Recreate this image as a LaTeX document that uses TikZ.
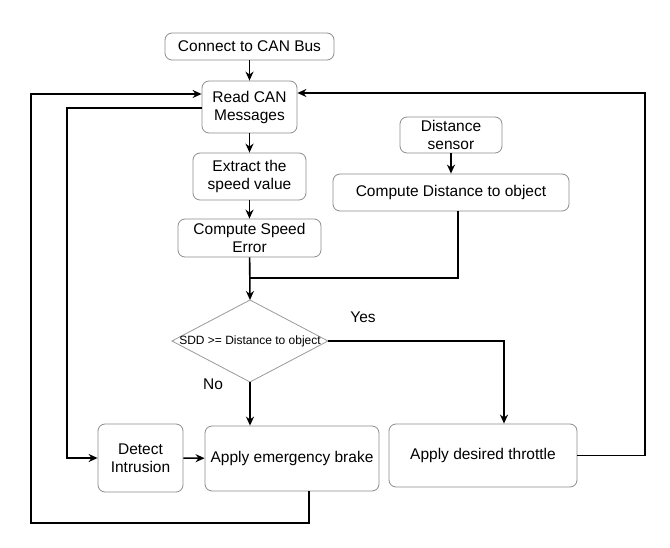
\documentclass[tikz,border=0pt]{standalone}
\usepackage{fontspec}
\setmainfont{Liberation Sans}
\usetikzlibrary{arrows.meta}
\begin{document}
\begin{tikzpicture}[x=1pt,y=-1pt,
  box/.style={draw=black!45, line width=0.8pt, rounded corners=7pt, align=center, inner sep=1pt,
    font=\fontsize{15.5}{18}\selectfont},
  diaedge/.style={draw=black!40, line width=0.8pt},
  diatext/.style={inner sep=0pt, font=\fontsize{12}{14}\selectfont},
  conn/.style={line width=1.6pt, black},
  arr/.style={conn, -{Stealth[length=9pt,width=8pt]}},
  lbl/.style={font=\fontsize{15.5}{18}\selectfont}]
\useasboundingbox (0,0) rectangle (670,548);
\node[box, minimum width=169pt, minimum height=27pt] (connect) at (249.5,46.5) {Connect to CAN Bus};
\node[box, minimum width=95pt, minimum height=52pt] (read) at (249.5,107) {Read CAN\\Messages};
\node[box, minimum width=113pt, minimum height=47pt] (extract) at (249.5,176.5) {Extract the\\speed value};
\node[box, minimum width=143pt, minimum height=38pt] (speed) at (249.5,238) {Compute Speed\\Error};
\node[box, minimum width=102pt, minimum height=36pt] (dsensor) at (451,135) {Distance\\sensor};
\node[box, minimum width=236pt, minimum height=37pt] (cdist) at (451,192.5) {Compute Distance to object};
\coordinate (dtop) at (250,300);
\coordinate (dbot) at (250,382);
\coordinate (dleft) at (172,341);
\coordinate (dright) at (328,341);
\draw[diaedge] (dtop) -- (dright) -- (dbot) -- (dleft) -- cycle;
\node[diatext] (dec) at (250,341) {SDD >= Distance to object};
\node[box, minimum width=174pt, minimum height=65pt] (brake) at (292,458.5) {Apply emergency brake};
\node[box, minimum width=85pt, minimum height=68pt] (intr) at (140.5,458) {Detect\\Intrusion};
\node[box, minimum width=188pt, minimum height=63pt] (thr) at (483,455.5) {Apply desired throttle};
\node[lbl] (yes) at (363,317) {Yes};
\node[lbl] (no) at (213,384) {No};
\coordinate (m) at (250,278);
\coordinate (r1) at (645,93);
\coordinate (b1) at (309,523);
\coordinate (l1) at (31,94);
\coordinate (l2) at (67,108);
\draw[arr] (connect) -- (read);
\draw[arr] (read) -- (extract);
\draw[arr] (extract) -- (speed);
\draw[arr] (dsensor) -- (cdist);
\draw[conn] ([xshift=7pt]cdist.south) |- (m);
\draw[arr] (speed) -- (dtop);
\draw[arr] (dright) -| ([xshift=21pt]thr.north);
\draw[arr] (dbot) -- (dbot |- brake.north);
\draw[arr] (thr.east) -| (r1) -- (r1 -| read.east);
\draw[arr] (b1 |- brake.south) -- (b1) -| (l1) -- (l1 -| read.west);
\draw[arr] (l2 -| read.west) -- (l2) |- (intr.west);
\draw[arr] (intr) -- (brake);
\end{tikzpicture}
\end{document}
